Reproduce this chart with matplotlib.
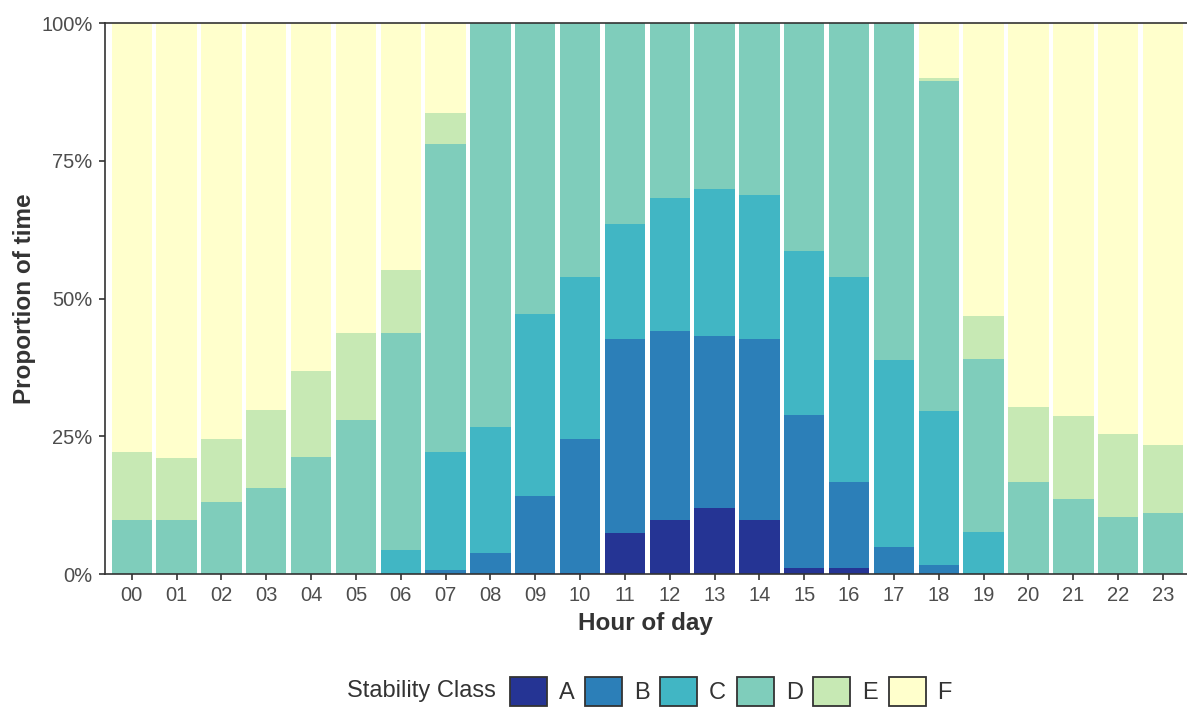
import numpy as np
import matplotlib
matplotlib.use('Agg')
import matplotlib.pyplot as plt
from matplotlib.patches import Patch

plt.rcParams['font.family'] = ['Liberation Sans', 'DejaVu Sans']

hours = ['%02d' % h for h in range(24)]
classes = ['A', 'B', 'C', 'D', 'E', 'F']
colors = ['#253494', '#2c7fb8', '#41b6c4', '#7fcdbb', '#c7e9b4', '#ffffcc']

# proportion (%) of each stability class per hour, F fills the rest
A = [0, 0, 0, 0, 0, 0, 0, 0, 0, 0.2, 0.2, 7.4, 9.8, 12.0, 9.8, 1.0, 1.0, 0, 0, 0, 0, 0, 0, 0]
B = [0, 0, 0, 0, 0, 0, 0, 0.7, 3.8, 14.0, 24.4, 35.3, 34.3, 31.2, 32.9, 27.9, 15.7, 4.9, 1.6, 0, 0, 0, 0, 0]
C = [0, 0, 0, 0, 0, 0, 4.4, 21.5, 22.9, 33.0, 29.3, 20.9, 24.2, 26.7, 26.1, 29.8, 37.2, 34.0, 28.0, 7.6, 0, 0, 0, 0]
D = [9.8, 9.8, 13.1, 15.6, 21.3, 27.9, 39.4, 55.9, 73.3, 52.8, 46.1, 36.4, 31.7, 30.1, 31.2, 41.3, 46.1, 61.1, 59.9, 31.4, 16.7, 13.7, 10.4, 11.1]
E = [12.4, 11.3, 11.5, 14.2, 15.6, 15.9, 11.4, 5.6, 0, 0, 0, 0, 0, 0, 0, 0, 0, 0, 0.6, 7.8, 13.6, 15.0, 15.0, 12.4]
F = [100 - a - b - c - d - e for a, b, c, d, e in zip(A, B, C, D, E)]

series = [A, B, C, D, E, F]

fig = plt.figure(figsize=(11.87, 7.07), dpi=100)
ax = fig.add_axes([104.8 / 1187, 133 / 707, (1187 - 104.8) / 1187, 550.7 / 707])

x = np.arange(len(hours))
bottom = np.zeros(len(hours))
for vals, col in zip(series, colors):
    v = np.array(vals) / 100.0
    ax.bar(x, v, width=0.9, bottom=bottom, color=col, linewidth=0)
    bottom += v

ax.set_xlim(-0.6, 23.535)
ax.set_ylim(0, 1)
ax.set_xticks(x)
ax.set_xticklabels(hours)
ax.set_yticks([0, 0.25, 0.5, 0.75, 1.0])
ax.set_yticklabels(['0%', '25%', '50%', '75%', '100%'])

grey = '#333333'
for s in ['left', 'bottom', 'top']:
    ax.spines[s].set_color(grey)
    ax.spines[s].set_linewidth(1.2)
ax.spines['right'].set_visible(False)
ax.tick_params(axis='both', colors=grey, labelcolor='#4d4d4d', labelsize=14.5,
               length=4.3, width=1.2, pad=4.5)

ax.set_xlabel('Hour of day', fontsize=17.5, fontweight='bold', color='#333333', labelpad=5)
ax.set_ylabel('Proportion of time', fontsize=17.5, fontweight='bold', color='#333333', labelpad=4)

handles = [Patch(facecolor=c, edgecolor='#333333', linewidth=1.3, label=l)
           for c, l in zip(colors, classes)]
fig.text(347 / 1187, 15.5 / 707, 'Stability Class', fontsize=17, color='#333333',
         ha='left', va='center')
fig.legend(handles=handles, loc='center left', bbox_to_anchor=(510 / 1187, 15.5 / 707),
           ncol=6, frameon=False, fontsize=17, handlelength=1.57, handleheight=1.57,
           handletextpad=0.5, columnspacing=0.45, borderpad=0, borderaxespad=0,
           labelcolor='#333333')

fig.savefig('out.png', dpi=100)
